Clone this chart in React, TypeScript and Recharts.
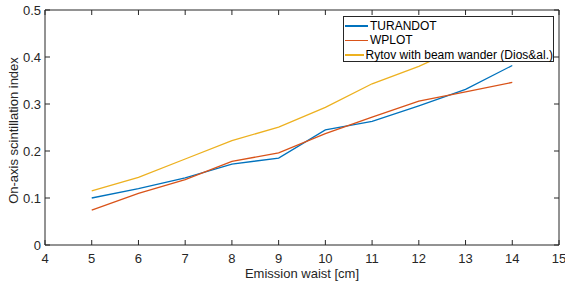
import React from 'react';
import { LineChart, Line, XAxis, YAxis } from 'recharts';

// Emission waist [cm]
const waist = [5, 6, 7, 8, 9, 10, 11, 12, 13, 14];
const turandot = [0.1, 0.12, 0.143, 0.172, 0.185, 0.245, 0.263, 0.296, 0.331, 0.382];
const wplot = [0.074, 0.11, 0.139, 0.178, 0.196, 0.237, 0.272, 0.306, 0.326, 0.346];
const rytov = [0.115, 0.144, 0.183, 0.222, 0.251, 0.293, 0.343, 0.38, 0.425, 0.47];

const xTicks = [4, 5, 6, 7, 8, 9, 10, 11, 12, 13, 14, 15];
const yTicks = [0, 0.1, 0.2, 0.3, 0.4, 0.5];

const seriesNames = ['TURANDOT', 'WPLOT', 'Rytov with beam wander (Dios&al.)'];
const colors = ['#0072BD', '#D95319', '#EDB120'];

const AXIS = '#262626';
const FONT = '"Liberation Sans", Arial, sans-serif';

const data = waist.map((w, i) => ({
  waist: w,
  turandot: turandot[i],
  wplot: wplot[i],
  rytov: rytov[i],
}));

const BottomTick = (props: any) => {
  const { x, y, payload } = props;
  return (
    <g>
      <line x1={x} y1={y} x2={x} y2={y - 5} stroke={AXIS} strokeWidth={1} />
      <text x={x} y={y + 18} textAnchor="middle" fontSize={13} fontFamily={FONT} fill={AXIS}>
        {payload.value}
      </text>
    </g>
  );
};

const TopTick = (props: any) => {
  const { x, y } = props;
  return <line x1={x} y1={y} x2={x} y2={y + 5} stroke={AXIS} strokeWidth={1} />;
};

const LeftTick = (props: any) => {
  const { x, y, payload } = props;
  return (
    <g>
      <line x1={x} y1={y} x2={x + 5} y2={y} stroke={AXIS} strokeWidth={1} />
      <text x={x - 4} y={y + 4.6} textAnchor="end" fontSize={13} fontFamily={FONT} fill={AXIS}>
        {payload.value === 0 ? '0' : payload.value.toFixed(1)}
      </text>
    </g>
  );
};

const RightTick = (props: any) => {
  const { x, y } = props;
  return <line x1={x} y1={y} x2={x - 5} y2={y} stroke={AXIS} strokeWidth={1} />;
};

const YTitle = (props: any) => {
  const vb = props.viewBox;
  const cy = vb.y + vb.height / 2 + 3;
  return (
    <text
      x={18}
      y={cy}
      transform={`rotate(-90, 18, ${cy})`}
      textAnchor="middle"
      fontSize={13}
      fontFamily={FONT}
      fill={AXIS}
    >
      On-axis scintillation index
    </text>
  );
};

const App: React.FC = () => {
  return (
    <div style={{ position: 'absolute', left: 0, top: 0, width: 565, height: 289, background: '#fff' }}>
      <LineChart width={565} height={289} data={data} margin={{ top: 9, right: 5, left: 0, bottom: 0 }}>
        <XAxis
          dataKey="waist"
          type="number"
          domain={[4, 15]}
          ticks={xTicks}
          height={44}
          tickSize={0}
          tickMargin={0}
          tickLine={false}
          axisLine={{ stroke: AXIS }}
          tick={<BottomTick />}
          interval={0}
          label={{
            value: 'Emission waist [cm]',
            position: 'insideBottom',
            offset: 11,
            style: { fontSize: 13, fontFamily: FONT, fill: AXIS },
          }}
        />
        <XAxis
          xAxisId="top"
          dataKey="waist"
          orientation="top"
          type="number"
          domain={[4, 15]}
          ticks={xTicks}
          height={1}
          tickSize={0}
          tickMargin={0}
          tickLine={false}
          axisLine={{ stroke: AXIS }}
          tick={<TopTick />}
          interval={0}
        />
        <YAxis
          type="number"
          domain={[0, 0.5]}
          ticks={yTicks}
          width={45}
          tickSize={0}
          tickMargin={0}
          tickLine={false}
          axisLine={{ stroke: AXIS }}
          tick={<LeftTick />}
          interval={0}
          label={{ content: (p: any) => <YTitle {...p} /> }}
        />
        <YAxis
          yAxisId="right"
          orientation="right"
          type="number"
          domain={[0, 0.5]}
          ticks={yTicks}
          width={1}
          tickSize={0}
          tickMargin={0}
          tickLine={false}
          axisLine={{ stroke: AXIS }}
          tick={<RightTick />}
          interval={0}
        />
        <Line dataKey="turandot" stroke={colors[0]} strokeWidth={1.3} dot={false} isAnimationActive={false} />
        <Line dataKey="wplot" stroke={colors[1]} strokeWidth={1.3} dot={false} isAnimationActive={false} />
        <Line dataKey="rytov" stroke={colors[2]} strokeWidth={1.3} dot={false} isAnimationActive={false} />
        {/* invisible series so the top/right frame axes get drawn */}
        <Line
          xAxisId="top"
          yAxisId="right"
          dataKey="turandot"
          stroke="none"
          dot={false}
          activeDot={false}
          legendType="none"
          isAnimationActive={false}
        />
      </LineChart>
      <div
        style={{
          position: 'absolute',
          left: 343,
          top: 16,
          width: 211,
          height: 46,
          background: '#fff',
          border: `1px solid ${AXIS}`,
          fontFamily: FONT,
          fontSize: 12,
          color: '#000',
          boxSizing: 'border-box',
          paddingTop: 1.5,
        }}
      >
        {seriesNames.map((name, i) => (
          <div key={name} style={{ display: 'flex', alignItems: 'center', height: 14.5, lineHeight: '14px' }}>
            <span style={{ display: 'inline-block', width: 23, height: 1.5, background: colors[i], marginLeft: 1, marginRight: 2 }} />
            <span style={{ whiteSpace: 'nowrap' }}>{name}</span>
          </div>
        ))}
      </div>
    </div>
  );
};

export default App;
